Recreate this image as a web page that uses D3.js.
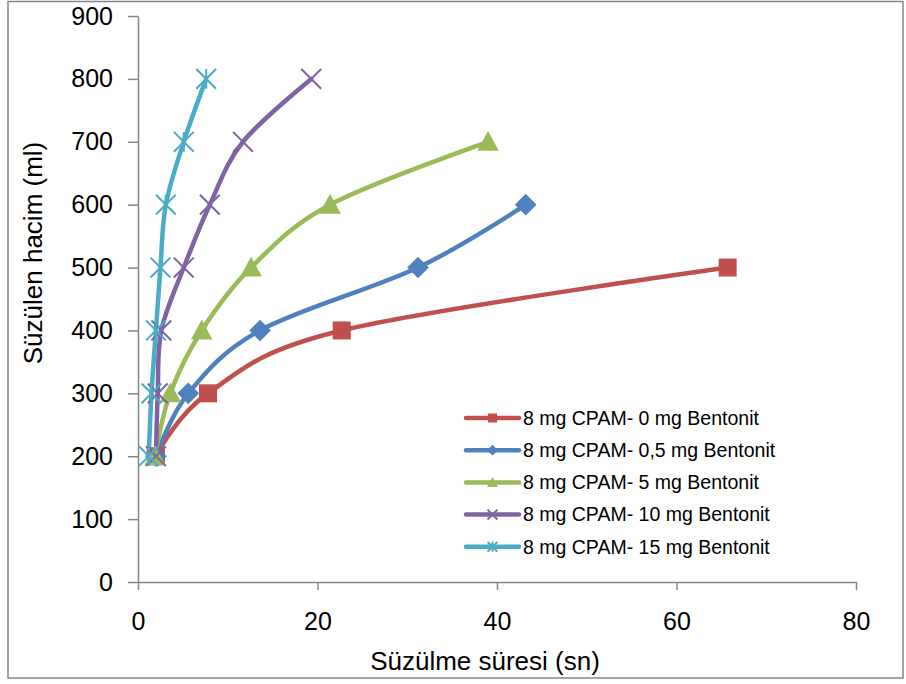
<!DOCTYPE html>
<html>
<head>
<meta charset="utf-8">
<script src="https://cdn.jsdelivr.net/npm/d3@7"></script>
<style>
  body { margin: 0; background: #ffffff; }
  text { font-family: "Liberation Sans", Arial, sans-serif; fill: #000; }
</style>
</head>
<body>
<script>
const [width, height] = [906, 684];
const margin = ({top: 16, right: 50, bottom: 102, left: 138});

// tick labels
const xTicks = [0, 20, 40, 60, 80];
const yTicks = [0, 100, 200, 300, 400, 500, 600, 700, 800, 900];

// series: filtration time (sn) vs filtered volume (ml)
const seriesNames = [
    "8 mg CPAM- 0 mg Bentonit",
    "8 mg CPAM- 0,5 mg Bentonit",
    "8 mg CPAM- 5 mg Bentonit",
    "8 mg CPAM- 10 mg Bentonit",
    "8 mg CPAM- 15 mg Bentonit"
];
const time0 = [2.0, 7.8, 22.7, 65.7];
const vol0 = [200, 300, 400, 500];
const time05 = [2.0, 5.6, 13.6, 31.2, 43.2];
const vol05 = [200, 300, 400, 500, 600];
const time5 = [1.9, 3.6, 7.1, 12.6, 21.4, 39.0];
const vol5 = [200, 300, 400, 500, 600, 700];
const time10 = [2.0, 2.2, 2.6, 5.1, 8.0, 11.7, 19.3];
const vol10 = [200, 300, 400, 500, 600, 700, 800];
const time15 = [1.2, 1.5, 2.0, 2.5, 3.1, 5.1, 7.6];
const vol15 = [200, 300, 400, 500, 600, 700, 800];

const colors = ["#C0504D", "#4F81BD", "#9BBB59", "#8064A2", "#4BACC6"];
const markers = ["square", "diamond", "triangle", "x", "star"];

const series = [
    d3.zip(time0, vol0),
    d3.zip(time05, vol05),
    d3.zip(time5, vol5),
    d3.zip(time10, vol10),
    d3.zip(time15, vol15)
].map((pts, i) => ({name: seriesNames[i], color: colors[i], marker: markers[i], pts}));

const svg = d3.select("body").append("svg")
    .attr("width", width)
    .attr("height", height)
    .attr("viewBox", [0, 0, width, height]);

svg.append("rect")
    .attr("x", 8).attr("y", 1.5)
    .attr("width", 895).attr("height", 676.5)
    .attr("fill", "#fff")
    .attr("stroke", "#868686")
    .attr("stroke-width", 1.5);

const x = d3.scaleLinear()
    .domain([0, 80])
    .range([margin.left, width - margin.right]);

const y = d3.scaleLinear()
    .domain([0, 900])
    .range([height - margin.bottom, margin.top]);

const xAxis = g => g
    .attr("transform", `translate(0,${y(0)})`)
    .call(d3.axisBottom(x).tickValues(xTicks).tickSize(8).tickPadding(22).tickSizeOuter(0))
    .call(g => g.selectAll("line, path").attr("stroke", "#868686").attr("stroke-width", 1.5))
    .call(g => g.selectAll("text").attr("font-size", 25).attr("font-family", null));

const yAxis = g => g
    .attr("transform", `translate(${x(0)},0)`)
    .call(d3.axisLeft(y).tickValues(yTicks).tickSize(10).tickPadding(15).tickSizeOuter(0))
    .call(g => g.selectAll("line, path").attr("stroke", "#868686").attr("stroke-width", 1.5))
    .call(g => g.selectAll("text").attr("font-size", 25).attr("font-family", null));

svg.append("g").call(xAxis);
svg.append("g").call(yAxis);

// axis titles
svg.append("text")
    .attr("x", 485).attr("y", 670)
    .attr("text-anchor", "middle")
    .attr("font-size", 26)
    .text("Süzülme süresi (sn)");

svg.append("text")
    .attr("transform", `translate(42,${253}) rotate(-90)`)
    .attr("text-anchor", "middle")
    .attr("font-size", 26)
    .text("Süzülen hacim (ml)");

const line = d3.line()
    .x(d => x(d[0]))
    .y(d => y(d[1]))
    .curve(d3.curveCardinal.tension(0));

const drawMarker = (g, type, color, s) => {
    if (type === "square") {
        g.append("rect").attr("x", -s / 2).attr("y", -s / 2).attr("width", s).attr("height", s)
            .attr("fill", color);
    } else if (type === "diamond") {
        g.append("path").attr("d", `M0,${-s * 0.6}L${s * 0.6},0L0,${s * 0.6}L${-s * 0.6},0Z`)
            .attr("fill", color);
    } else if (type === "triangle") {
        g.append("path").attr("d", `M0,${-s * 0.6}L${s * 0.6},${s * 0.5}L${-s * 0.6},${s * 0.5}Z`)
            .attr("fill", color);
    } else if (type === "x") {
        const h = s * 0.55;
        g.append("path").attr("d", `M${-h},${-h}L${h},${h}M${-h},${h}L${h},${-h}`)
            .attr("stroke", color).attr("stroke-width", 2);
    } else if (type === "star") {
        const h = s * 0.55;
        g.append("path").attr("d", `M${-h},${-h}L${h},${h}M${-h},${h}L${h},${-h}M0,${-h}L0,${h}`)
            .attr("stroke", color).attr("stroke-width", 2);
    }
};

const plot = svg.append("g");

series.forEach(s => {
    plot.append("path")
        .datum(s.pts)
        .attr("fill", "none")
        .attr("stroke", s.color)
        .attr("stroke-width", 4.5)
        .attr("stroke-linecap", "round")
        .attr("d", line);
});

series.forEach(s => {
    s.pts.forEach(p => {
        const g = plot.append("g").attr("transform", `translate(${x(p[0])},${y(p[1])})`);
        drawMarker(g, s.marker, s.color, 18);
    });
});

// legend
const legend = svg.append("g");
series.forEach((s, i) => {
    const cy = 418 + i * 32.2;
    const g = legend.append("g").attr("transform", `translate(0,${cy})`);
    g.append("line")
        .attr("x1", 466).attr("x2", 519)
        .attr("stroke", s.color).attr("stroke-width", 4.5)
        .attr("stroke-linecap", "round");
    drawMarker(g.append("g").attr("transform", "translate(492.5,0)"), s.marker, s.color, 9);
    g.append("text")
        .attr("x", 523).attr("y", 0)
        .attr("dy", "0.35em")
        .attr("font-size", 19.5)
        .text(s.name);
});
</script>
</body>
</html>
